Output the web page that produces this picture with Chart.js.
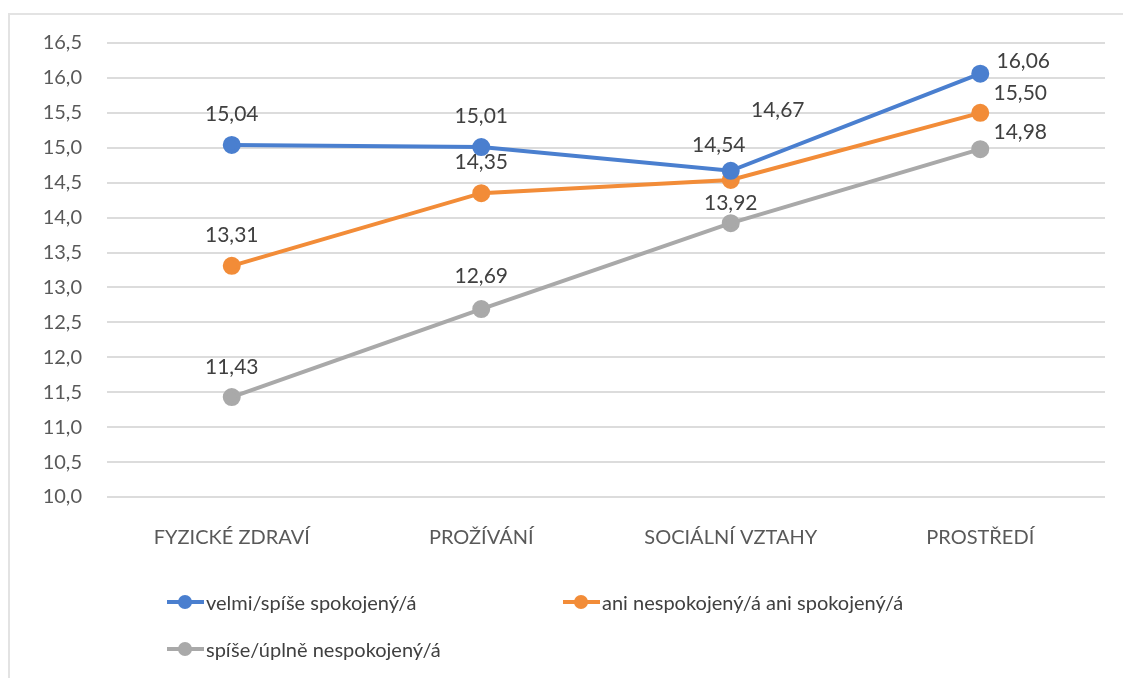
<!DOCTYPE html>
<html>
<head>
<meta charset="utf-8">
<script src="https://cdn.jsdelivr.net/npm/chart.js@4.4.1/dist/chart.umd.min.js"></script>
<style>
  body { margin: 0; background: #fff; }
  #wrap { position: relative; width: 1123px; height: 678px; overflow: hidden; }
  #frame { position: absolute; left: 8px; top: 13px; width: 1200px; height: 800px; border: 2px solid #e3e3e3; box-sizing: border-box; }
  #chart { position: absolute; left: 0; top: 0; }
  .legend-item { position: absolute; font-family: Lato, sans-serif; font-size: 20px; color: #404040; display: flex; align-items: center; white-space: nowrap; }
  .marker { position: relative; width: 37px; height: 4px; margin-right: 2px; }
  .marker span { position: absolute; left: 11px; top: -5px; width: 14px; height: 14px; border-radius: 50%; }
</style>
</head>
<body>
<div id="wrap">
  <div id="frame"></div>
  <canvas id="chart" width="1123" height="678"></canvas>
  <div id="legend"></div>
</div>
<script>
var categories = ["FYZICKÉ ZDRAVÍ", "PROŽÍVÁNÍ", "SOCIÁLNÍ VZTAHY", "PROSTŘEDÍ"];
var seriesNames = [
  "velmi/spíše spokojený/á",
  "ani nespokojený/á ani spokojený/á",
  "spíše/úplně nespokojený/á",
];
var satisfied = [15.04, 15.01, 14.67, 16.06];
var neutral = [13.31, 14.35, 14.54, 15.5];
var dissatisfied = [11.43, 12.69, 13.92, 14.98];
var colors = ["#4a7fcf", "#f28c38", "#a9a9a9"];

// label offsets (dx, dy) from the point, per series
var labelOffsets = [
  [[0, -31], [0, -31], [47, -61], [43, -12]],
  [[0, -31], [0, -31], [-12, -35], [40, -20]],
  [[0, -30], [0, -33], [0, -20], [40, -17]],
];

function fmt(v, d) {
  return v.toFixed(d).replace(".", ",");
}

var valueLabels = {
  id: "valueLabels",
  afterDatasetsDraw: function (chart) {
    var ctx = chart.ctx;
    ctx.save();
    ctx.font = "21px Lato, sans-serif";
    ctx.fillStyle = "#404040";
    ctx.textAlign = "center";
    ctx.textBaseline = "middle";
    chart.data.datasets.forEach(function (ds, i) {
      var meta = chart.getDatasetMeta(i);
      meta.data.forEach(function (pt, j) {
        var off = labelOffsets[i][j];
        ctx.fillText(fmt(ds.data[j], 2), pt.x + off[0], pt.y + off[1]);
      });
    });
    ctx.restore();
  },
};

var dataSets = [satisfied, neutral, dissatisfied];

new Chart(document.getElementById("chart"), {
  type: "line",
  data: {
    labels: categories,
    datasets: dataSets.map(function (values, i) {
      return {
        label: seriesNames[i],
        data: values,
        borderColor: colors[i],
        backgroundColor: colors[i],
        borderWidth: 4,
        pointRadius: 7,
        pointHoverRadius: 7,
        fill: false,
        tension: 0,
      };
    }),
  },
  options: {
    responsive: false,
    animation: false,
    layout: { padding: { left: 0, right: 18, top: 43, bottom: 111 } },
    plugins: {
      legend: { display: false },
      tooltip: { enabled: false },
    },
    scales: {
      x: {
        offset: true,
        grid: { display: false, drawTicks: false },
        border: { display: false },
        ticks: {
          padding: 29,
          color: "#595959",
          font: { family: "Lato, sans-serif", size: 20 },
          maxRotation: 0,
        },
        afterFit: function (scale) {
          scale.height = 70;
        },
      },
      y: {
        min: 10,
        max: 16.5,
        ticks: {
          stepSize: 0.5,
          padding: 25,
          color: "#595959",
          font: { family: "Lato, sans-serif", size: 20 },
          callback: function (v) {
            return fmt(v, 1);
          },
        },
        grid: { color: "#dcdcdc", lineWidth: 2, drawTicks: false },
        border: { display: false },
        afterFit: function (scale) {
          scale.width = 107;
        },
      },
    },
  },
  plugins: [valueLabels],
});

// legend laid out like the original (two columns)
var legendPos = [[167, 603], [563, 603], [167, 650]];
var legend = document.getElementById("legend");
seriesNames.forEach(function (name, i) {
  var item = document.createElement("div");
  item.className = "legend-item";
  item.style.left = legendPos[i][0] + "px";
  item.style.top = legendPos[i][1] - 13 + "px";
  item.innerHTML =
    '<div class="marker" style="background:' + colors[i] + '"><span style="background:' +
    colors[i] + '"></span></div>' + name;
  legend.appendChild(item);
});
</script>
</body>
</html>
